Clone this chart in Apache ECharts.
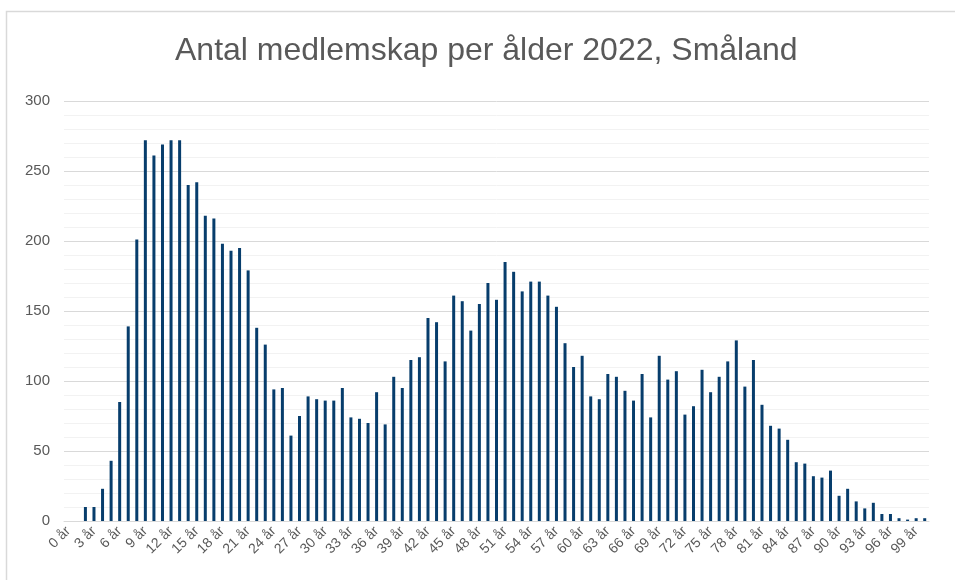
<!DOCTYPE html>
<html>
<head>
    <meta charset="utf-8">
    <title>Antal medlemskap per ålder 2022, Småland</title>
    <script type="text/javascript" src="https://cdn.jsdelivr.net/npm/echarts@6/dist/echarts.min.js"></script>
    <style>
        body {
            margin: 0px;
            padding: 0px;
            background: #ffffff;
        }
    </style>
</head>
<body>
<div id="chartRegion" style="width: 955px; height: 580px;"></div>
<script type="text/javascript">
    // åldrar 0..100 år
    var ages = [];
    for (var a = 0; a <= 100; a++) {
        ages.push(a + ' år');
    }
    var members = [
        0, 0, 10, 10, 23, 43, 85, 139, 201, 272,
        261, 269, 272, 272, 240, 242, 218, 216, 198, 193,
        195, 179, 138, 126, 94, 95, 61, 75, 89, 87,
        86, 86, 95, 74, 73, 70, 92, 69, 103, 95,
        115, 117, 145, 142, 114, 161, 157, 136, 155, 170,
        158, 185, 178, 164, 171, 171, 161, 153, 127, 110,
        118, 89, 87, 105, 103, 93, 86, 105, 74, 118,
        101, 107, 76, 82, 108, 92, 103, 114, 129, 96,
        115, 83, 68, 66, 58, 42, 41, 32, 31, 36,
        18, 23, 14, 9, 13, 5, 5, 2, 1, 2,
        2
    ];
    var titleText = 'Antal medlemskap per ålder 2022, Småland';

    var chart = echarts.init(document.getElementById('chartRegion'));
    var option = {
        animation: false,
        textStyle: {fontFamily: 'Liberation Sans, Arial, sans-serif'},
        title: {
            text: titleText,
            left: 170,
            top: 30,
            textStyle: {
                fontSize: 32,
                fontWeight: 'normal',
                color: '#595959',
                fontFamily: 'Liberation Sans, Arial, sans-serif'
            }
        },
        graphic: [{
            type: 'rect',
            shape: {x: 6.5, y: 11.5, width: 1000, height: 1000},
            style: {fill: 'none', stroke: '#d9d9d9', lineWidth: 1.5},
            silent: true
        }],
        grid: {left: 64, right: 26, top: 101, bottom: 59},
        xAxis: {
            type: 'category',
            data: ages,
            axisLine: {lineStyle: {color: '#d9d9d9'}},
            axisTick: {show: false},
            axisLabel: {
                interval: 2,
                rotate: 45,
                fontSize: 14,
                color: '#595959',
                margin: 8
            }
        },
        yAxis: {
            type: 'value',
            min: 0,
            max: 300,
            interval: 50,
            axisLine: {show: false},
            axisTick: {show: false},
            axisLabel: {fontSize: 15, color: '#595959', margin: 14},
            splitLine: {lineStyle: {color: '#d9d9d9', width: 1}},
            minorTick: {show: false, splitNumber: 5},
            minorSplitLine: {show: true, lineStyle: {color: '#f2f2f2', width: 1}}
        },
        series: [{
            name: 'Medlemskap',
            type: 'bar',
            data: members,
            barWidth: 3,
            itemStyle: {color: '#073d6c'}
        }]
    };
    chart.setOption(option);
</script>
</body>
</html>
